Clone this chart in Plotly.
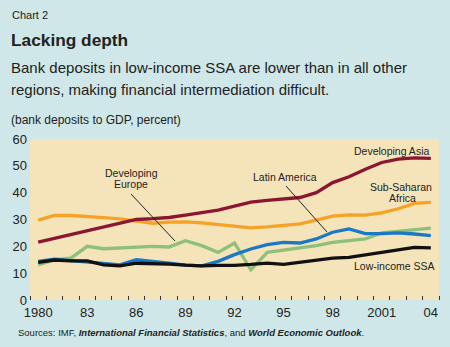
import plotly.graph_objects as go

years = list(range(1980, 2005))

developing_asia = [21.6, 23.0, 24.2, 25.6, 26.9, 28.4, 30.0, 30.3, 30.75, 31.6, 32.5, 33.5, 35.0,
                   36.5, 37.1, 37.75, 38.2, 40.0, 43.75, 45.9, 48.75, 51.25, 52.5, 53.0, 52.75]
sub_saharan_africa = [29.75, 31.5, 31.5, 31.2, 30.7, 30.2, 29.4, 28.6, 29.0, 29.1, 28.75, 28.1, 27.25,
                      26.9, 27.25, 27.9, 28.4, 29.75, 31.25, 31.75, 31.6, 32.5, 34.0, 36.0, 36.4]
latin_america = [14.4, 15.2, 14.7, 14.1, 13.5, 13.1, 15.0, 14.5, 13.75, 13.0, 12.75, 14.4, 16.9,
                 19.0, 20.6, 21.5, 21.25, 22.75, 25.25, 26.5, 24.75, 24.75, 25.0, 24.6, 24.0]
developing_europe = [13.1, 15.0, 15.6, 20.0, 19.1, 19.5, 19.9, 20.0, 19.75, 22.1, 20.25, 17.75, 21.25,
                     11.25, 17.75, 18.5, 19.4, 20.25, 21.5, 22.25, 22.75, 25.0, 25.6, 26.25, 26.75]
low_income_ssa = [14.0, 14.9, 14.6, 14.6, 13.1, 12.7, 13.7, 13.6, 13.4, 13.0, 12.75, 12.9, 12.9,
                  13.25, 13.75, 13.25, 14.0, 15.0, 15.6, 15.9, 16.9, 17.75, 18.75, 19.6, 19.4]

tick_years = [1980, 1983, 1986, 1989, 1992, 1995, 1998, 2001, 2004]
tick_labels = ["1980", "83", "86", "89", "92", "95", "98", "2001", "04"]
y_ticks = [0, 10, 20, 30, 40, 50, 60]

BG = "#cfe7e8"
PLOT_BG = "#f5e4b9"
TXT = "#222222"
FONT = "Liberation Sans, Arial, sans-serif"

series = [
    ("Developing Europe", developing_europe, "#8dc07b"),
    ("Latin America", latin_america, "#1b78c6"),
    ("Low-income SSA", low_income_ssa, "#111111"),
    ("Sub-Saharan Africa", sub_saharan_africa, "#f6a226"),
    ("Developing Asia", developing_asia, "#8a1631"),
]

fig = go.Figure()
for name, vals, col in series:
    fig.add_trace(go.Scatter(x=years, y=vals, mode="lines", name=name,
                             line=dict(color=col, width=3.3), showlegend=False))

W, H = 450, 347
L, R, T, B = 30, 11, 139, 47


def px_to_paper(px, py):
    return (px - L) / (W - L - R), (H - B - py) / (H - T - B)


def text(s, px, py, size, xanchor="left", family=FONT, color=TXT):
    x, y = px_to_paper(px, py)
    fig.add_annotation(text=s, x=x, y=y, xref="paper", yref="paper", showarrow=False,
                       xanchor=xanchor, yanchor="middle",
                       font=dict(size=size, family=family, color=color))


# header
text("Chart 2", 10, 15, 11)
text("<b>Lacking depth</b>", 9, 40, 17.3)
text("Bank deposits in low-income SSA are lower than in all other", 9, 68, 15)
text("regions, making financial intermediation difficult.", 9, 89, 15)
text("(bank deposits to GDP, percent)", 9, 120, 12)
text("Sources: IMF, <b><i>International Financial Statistics</i></b>, and <b><i>World Economic Outlook</i></b>.",
     16, 332, 9.5)

# series labels
text("Developing", 131, 172.5, 10.5, "center")
text("Europe", 131, 184, 10.5, "center")
text("Latin America", 285, 177, 10.5, "center")
text("Developing Asia", 391, 151, 10.5, "center")
text("Sub-Saharan", 401, 186.5, 10.5, "center")
text("Africa", 402, 198, 10.5, "center")
text("Low-income SSA", 394, 266, 10.5, "center")

# leader lines
for (x0, y0, x1, y1) in [(131, 194, 175, 241), (286, 186, 327, 232)]:
    a0, b0 = px_to_paper(x0, y0)
    a1, b1 = px_to_paper(x1, y1)
    fig.add_shape(type="line", xref="paper", yref="paper", x0=a0, y0=b0, x1=a1, y1=b1,
                  line=dict(color="#222222", width=1))

fig.update_layout(
    width=W, height=H,
    margin=dict(l=L, r=R, t=T, b=B),
    paper_bgcolor=BG, plot_bgcolor=PLOT_BG,
    xaxis=dict(range=[1979.5, 2004.5], tickmode="array", tickvals=tick_years, ticktext=tick_labels,
               ticks="", showgrid=False, zeroline=False, showline=False, ticklabelstandoff=3,
               tickfont=dict(size=13, family=FONT, color=TXT),
               minor=dict(tickmode="array", tickvals=[y - 0.5 for y in years] + [2004.5],
                          ticks="inside", ticklen=4, tickwidth=1, tickcolor="#333333", showgrid=False)),
    yaxis=dict(range=[0, 60], tickmode="array", tickvals=y_ticks, ticks="", showgrid=False,
               zeroline=False, showline=False, ticklabelstandoff=2,
               tickfont=dict(size=13, family=FONT, color=TXT)),
)

fig.write_html("out.html")
